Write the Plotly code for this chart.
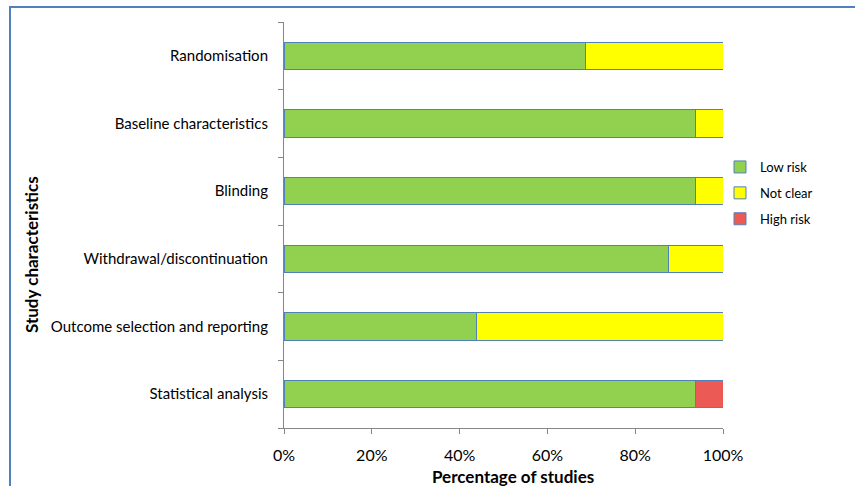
import plotly.graph_objects as go

# Risk-of-bias summary across study characteristics (share of studies, %)
categories = [
    "Randomisation",
    "Baseline characteristics",
    "Blinding",
    "Withdrawal/discontinuation",
    "Outcome selection and reporting",
    "Statistical analysis",
]
low_risk = [68.75, 93.75, 93.75, 87.5, 43.75, 93.75]
not_clear = [31.25, 6.25, 6.25, 12.5, 56.25, 0.0]
high_risk = [0.0, 0.0, 0.0, 0.0, 0.0, 6.25]
x_ticks = [0, 20, 40, 60, 80, 100]
x_tick_labels = ["0%", "20%", "40%", "60%", "80%", "100%"]

FONT = "Lato, Carlito, Calibri, sans-serif"
OUTLINE = "#4F81BD"

fig = go.Figure()
for name, vals, color in [
    ("Low risk", low_risk, "#92D050"),
    ("Not clear", not_clear, "#FFFF00"),
    ("High risk", high_risk, "#EB5A55"),
]:
    fig.add_trace(go.Bar(
        name=name, legendgroup=name, y=categories, x=vals, orientation="h",
        marker=dict(color=color, line=dict(color=OUTLINE, width=1)),
        width=0.4,
    ))

W, H = 855, 486
L, R, T, B = 284, 132, 22, 58
pw, ph = W - L - R, H - T - B

def px_to_paper_x(px):
    return (px - L) / pw

def px_to_paper_y(py):
    return (H - B - py) / ph

fig.update_layout(
    width=W, height=H,
    margin=dict(l=L, r=R, t=T, b=B, autoexpand=False),
    barmode="stack",
    plot_bgcolor="white", paper_bgcolor="white",
    font=dict(family=FONT, size=15, color="#000000"),
    showlegend=True,
    legend=dict(
        x=px_to_paper_x(720), y=px_to_paper_y(152), xanchor="left", yanchor="top",
        font=dict(size=13, family=FONT), traceorder="grouped",
        itemwidth=30, tracegroupgap=6, bgcolor="rgba(0,0,0,0)",
    ),
    xaxis=dict(
        range=[0, 100], tickvals=x_ticks, ticktext=x_tick_labels,
        showgrid=False, zeroline=False, showline=True, linecolor="#868686", linewidth=1,
        ticks="outside", ticklen=5, tickcolor="#868686",
        ticklabelstandoff=8,
        tickfont=dict(size=16, family=FONT),
        automargin=False,
    ),
    yaxis=dict(
        categoryorder="array", categoryarray=categories[::-1],
        showgrid=False, zeroline=False, showline=True, linecolor="#868686", linewidth=1,
        ticks="outside", ticklen=5, tickcolor="#868686", tickson="boundaries",
        ticklabelstandoff=12,
        tickfont=dict(size=15, family=FONT),
        automargin=False,
    ),
    shapes=[dict(
        type="rect", xref="paper", yref="paper",
        x0=px_to_paper_x(10), x1=px_to_paper_x(900),
        y0=px_to_paper_y(520), y1=px_to_paper_y(7),
        line=dict(color="#4F81BD", width=2), fillcolor="rgba(0,0,0,0)", layer="below",
    )],
    annotations=[
        dict(
            text="<b>Study characteristics</b>", textangle=-90,
            xref="paper", yref="paper", x=px_to_paper_x(31), y=px_to_paper_y(255),
            xanchor="center", yanchor="middle",
            showarrow=False, font=dict(size=17, family=FONT),
        ),
        dict(
            text="<b>Percentage of studies</b>",
            xref="paper", yref="paper", x=px_to_paper_x(513), y=px_to_paper_y(477),
            xanchor="center", yanchor="middle",
            showarrow=False, font=dict(size=17, family=FONT),
        ),
    ],
)

fig.write_html("out.html")
